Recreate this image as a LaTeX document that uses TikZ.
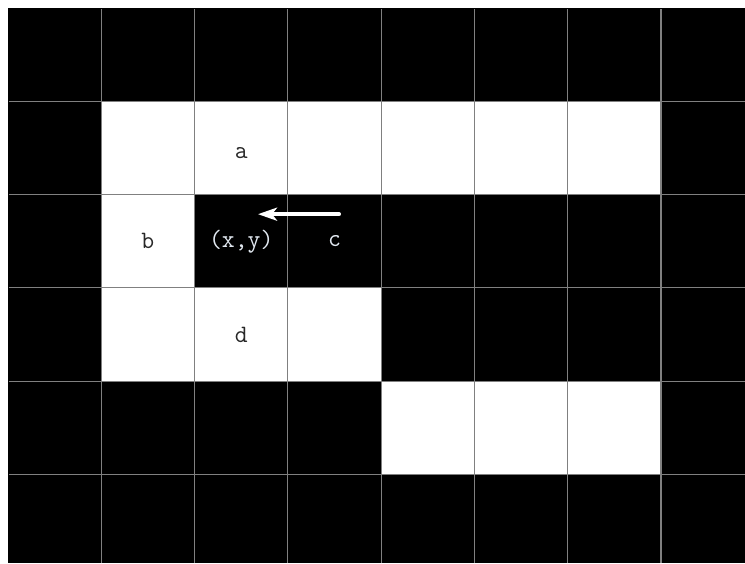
\documentclass[tikz,border=0pt]{standalone}
\usepackage{tikz}
\usetikzlibrary{arrows.meta,positioning}
\definecolor{cellgrid}{RGB}{128,128,128}
\definecolor{lighttxt}{RGB}{225,232,240}
\definecolor{darktxt}{RGB}{40,40,40}
\tikzset{
  gridln/.style={line width=1.2pt, cellgrid},
  whitecell/.style={fill=white},
  pixlbl/.style={font=\ttfamily\fontsize{25}{28}\selectfont, inner sep=0pt},
  onwhite/.style={pixlbl, darktxt},
  onblack/.style={pixlbl, lighttxt},
  moveln/.style={-{Stealth[length=19pt,width=13pt,inset=5pt]}, line width=3.6pt, line cap=round, white},
}

\begin{document}
\begin{tikzpicture}[x=93.3pt,y=93.3pt]
    \useasboundingbox (-0.0857,0.0857) rectangle (7.9,-5.95);
    % background pixels
    \fill[black] (0,0) rectangle (7.9,-5.95);
    % white pixels
    \fill[whitecell] (1,-1) rectangle (7,-2);
    \fill[whitecell] (1,-2) rectangle (2,-3);
    \fill[whitecell] (1,-3) rectangle (4,-4);
    \fill[whitecell] (4,-4) rectangle (7,-5);
    % grid (no outer top/left lines)
    \draw[gridln, step={(1,1)}] (0.01,-0.01) grid (7.9,-5.95);
    % neighbours of (x,y)
    \node[onblack] (xy) at (2.5,-2.5) {(x,y)};
    \node[onwhite] (a) at (2.5,-1.55) {a};
    \node[onwhite] (b) at (1.5,-2.5) {b};
    \node[onblack] (c) at (3.5,-2.5) {c};
    \node[onwhite] (d) at (2.5,-3.5) {d};
    % scan direction
    \coordinate (arrS) at (3.55,-2.21);
    \coordinate (arrE) at (2.68,-2.21);
    \draw[moveln] (arrS) -- (arrE);
  \end{tikzpicture}
\end{document}
